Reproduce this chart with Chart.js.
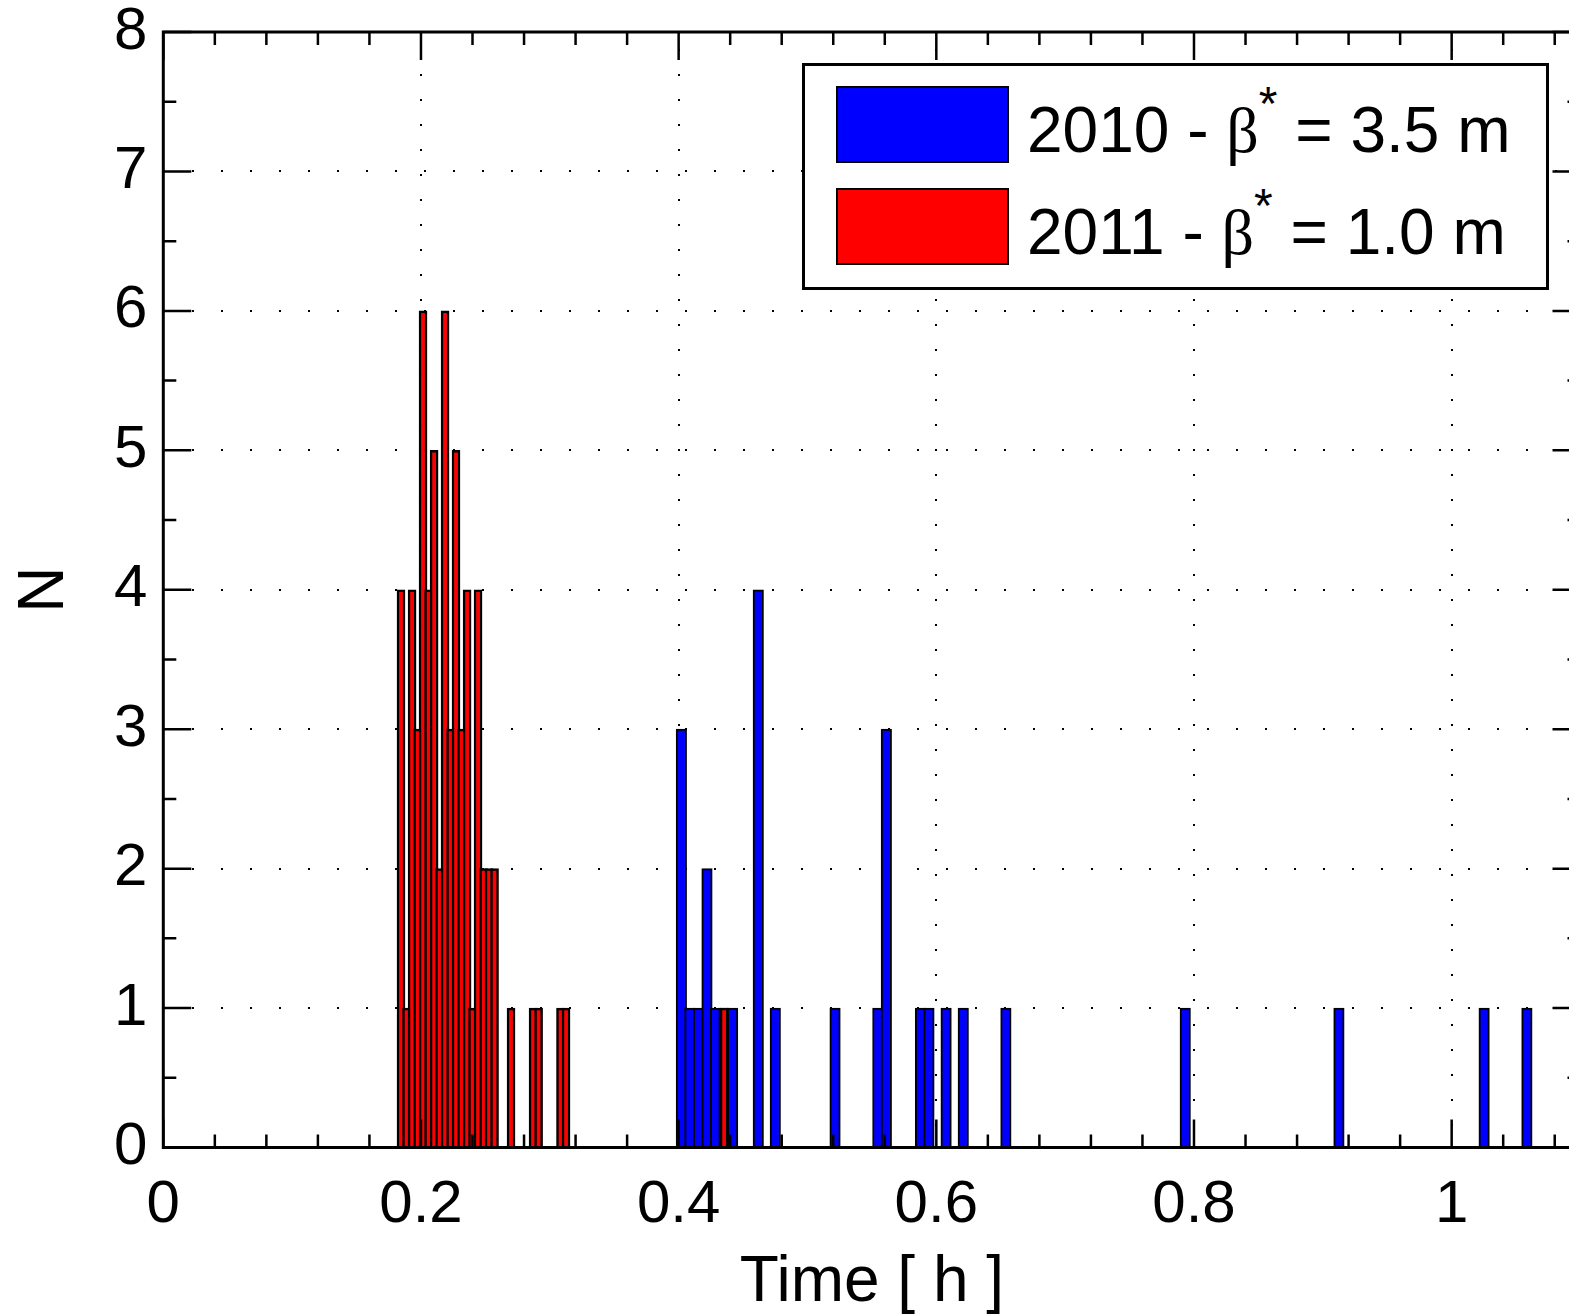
<!DOCTYPE html>
<html>
<head>
<meta charset="utf-8">
<script src="https://cdn.jsdelivr.net/npm/chart.js@4.4.1/dist/chart.umd.min.js"></script>
<style>
html,body{margin:0;padding:0;overflow:hidden;background:#fff;width:1569px;height:1315px}
#wrap{position:absolute;left:0;top:0;width:1600px;height:1315px}
#legend{position:absolute;left:802px;top:63px;width:741px;height:221px;border:3px solid #000;background:#fff;font-family:"Liberation Sans",Arial,sans-serif;color:#000}
.patch{position:absolute;left:31px;width:169px;height:73px;border:2px solid #000}
.lab{position:absolute;left:222px;font-size:64px;line-height:64px;white-space:nowrap}
.beta{font-family:"Liberation Serif","Times New Roman",serif}
.sup{font-size:48px;position:relative;top:-32px}
</style>
</head>
<body>
<div id="wrap"><canvas id="c" width="1600" height="1315"></canvas></div>
<div id="legend">
  <div class="patch" style="top:20px;background:#0000ff"></div>
  <div class="lab" style="top:32px">2010 - <span class="beta">β</span><span class="sup">*</span> = 3.5 m</div>
  <div class="patch" style="top:122px;background:#ff0000"></div>
  <div class="lab" style="top:134px">2011 - <span class="beta">β</span><span class="sup">*</span> = 1.0 m</div>
</div>
<script>
// 2010 (beta* = 3.5 m): bin centres [h] and counts
const blueTimes  = [0.4021, 0.4087, 0.4154, 0.4220, 0.4286, 0.4352, 0.4419, 0.4618, 0.4750, 0.5214,
                    0.5546, 0.5612, 0.5877, 0.5943, 0.6076, 0.6209, 0.6540, 0.7932, 0.9125, 1.0252, 1.0584];
const blueCounts = [3, 1, 1, 2, 1, 1, 1, 4, 1, 1,
                    1, 3, 1, 1, 1, 1, 1, 1, 1, 1, 1];
// 2011 (beta* = 1.0 m): bin centres [h] and counts
const redTimes  = [0.1845, 0.1888, 0.1931, 0.1974, 0.2016, 0.2059, 0.2102, 0.2144, 0.2187, 0.2230,
                   0.2272, 0.2315, 0.2358, 0.2400, 0.2443, 0.2486, 0.2528, 0.2571, 0.2699, 0.2870,
                   0.2913, 0.3083, 0.3126, 0.4353];
const redCounts = [4, 1, 4, 3, 6, 4, 5, 2, 6, 3,
                   5, 3, 4, 1, 4, 2, 2, 2, 1, 1,
                   1, 1, 1, 1];
const xTicks = [0, 0.2, 0.4, 0.6, 0.8, 1];
const xTickLabels = ['0', '0.2', '0.4', '0.6', '0.8', '1'];
const yTicks = [0, 1, 2, 3, 4, 5, 6, 7, 8];
const yTickLabels = ['0', '1', '2', '3', '4', '5', '6', '7', '8'];
const xMin = 0, xMax = 1.1, yMin = 0, yMax = 8;
const xMinorStep = 0.04, yMinorStep = 0.5;

const FONT = '"Liberation Sans", Arial, Helvetica, sans-serif';

const framePlugin = {
  id: 'frame',
  afterDatasetsDraw(chart) {
    const {ctx, chartArea: {left, right, top, bottom}, scales: {x, y}} = chart;
    ctx.save();
    ctx.strokeStyle = '#000';
    ctx.lineWidth = 2.5;
    ctx.lineCap = 'butt';
    ctx.beginPath();
    const nx = Math.round((xMax - xMin) / xMinorStep);
    for (let k = 0; k <= nx; k++) {
      const v = xMin + k * xMinorStep;
      const px = x.getPixelForValue(v);
      const L = (k % 5 === 0) ? 28 : 13;
      ctx.moveTo(px, bottom); ctx.lineTo(px, bottom - L);
      ctx.moveTo(px, top); ctx.lineTo(px, top + L);
    }
    const ny = Math.round((yMax - yMin) / yMinorStep);
    for (let k = 0; k <= ny; k++) {
      const v = yMin + k * yMinorStep;
      const py = y.getPixelForValue(v);
      const L = (k % 2 === 0) ? 28 : 13;
      ctx.moveTo(left, py); ctx.lineTo(left + L, py);
      ctx.moveTo(right, py); ctx.lineTo(right - L, py);
    }
    ctx.stroke();
    ctx.lineWidth = 3;
    ctx.strokeRect(left, top, right - left, bottom - top);
    ctx.restore();
  }
};

new Chart(document.getElementById('c'), {
  type: 'bar',
  data: {
    datasets: [
      {
        label: '2010 - β* = 3.5 m',
        data: blueTimes.map((t, i) => ({x: t, y: blueCounts[i]})),
        backgroundColor: '#0000ff',
        borderColor: '#000000',
        borderWidth: 2,
        barThickness: 10.5,
        grouped: false,
        order: 1
      },
      {
        label: '2011 - β* = 1.0 m',
        data: redTimes.map((t, i) => ({x: t, y: redCounts[i]})),
        backgroundColor: '#ff0000',
        borderColor: '#000000',
        borderWidth: 2.5,
        barThickness: 8,
        grouped: false,
        order: 0
      }
    ]
  },
  options: {
    responsive: false,
    animation: false,
    devicePixelRatio: 1,
    layout: {padding: {left: 0, top: 32, right: 19.5, bottom: 0}},
    plugins: {legend: {display: false}, tooltip: {enabled: false}},
    scales: {
      x: {
        type: 'linear',
        min: xMin, max: xMax,
        offset: false,
        afterBuildTicks: s => { s.ticks = xTicks.map(v => ({value: v})); },
        afterFit: s => { s.height = 167.5; s.paddingLeft = 0; s.paddingRight = 0; },
        ticks: {
          callback: (v, i) => xTickLabels[i],
          font: {family: FONT, size: 60, lineHeight: 1},
          color: '#000', padding: 28, maxRotation: 0, autoSkip: false
        },
        grid: {color: '#000', lineWidth: 2, drawTicks: false, offset: false},
        border: {display: false, dash: [2, 23], dashOffset: 8},
        title: {display: true, text: 'Time [ h ]', color: '#000',
                font: {family: FONT, size: 64}, padding: {top: 0, bottom: -7}}
      },
      y: {
        type: 'linear',
        min: yMin, max: yMax,
        afterBuildTicks: s => { s.ticks = yTicks.map(v => ({value: v})); },
        afterFit: s => { s.width = 163.3; s.paddingTop = 0; s.paddingBottom = 0; },
        ticks: {
          callback: (v, i) => yTickLabels[i],
          font: {family: FONT, size: 60, lineHeight: 1},
          color: '#000', padding: 16
        },
        grid: {color: '#000', lineWidth: 2, drawTicks: false},
        border: {display: false, dash: [2, 27]},
        title: {display: true, text: 'N', color: '#000',
                font: {family: FONT, size: 64}, padding: {top: 7, bottom: 0}}
      }
    }
  },
  plugins: [framePlugin]
});
</script>
</body>
</html>
